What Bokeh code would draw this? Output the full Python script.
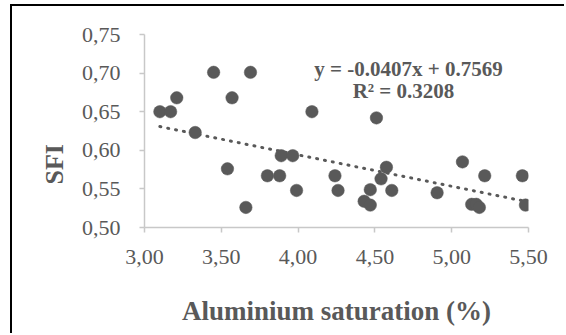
from bokeh.plotting import figure
from bokeh.models import Title, FixedTicker
from bokeh.embed import file_html
from bokeh.resources import INLINE

# ---- data ----
al_sat = [3.10, 3.17, 3.21, 3.33, 3.45, 3.69, 3.57, 3.54, 3.66, 3.80, 3.88, 3.89,
          3.965, 3.99, 4.09, 4.24, 4.26, 4.51, 4.575, 4.54, 4.47, 4.61, 4.43, 4.47,
          4.905, 5.07, 5.215, 5.46, 5.48, 5.13, 5.16, 5.18]
sfi = [0.650, 0.650, 0.668, 0.623, 0.701, 0.701, 0.668, 0.576, 0.526, 0.567, 0.567, 0.593,
       0.593, 0.548, 0.650, 0.567, 0.548, 0.642, 0.578, 0.563, 0.549, 0.548, 0.534, 0.529,
       0.545, 0.585, 0.567, 0.567, 0.529, 0.530, 0.530, 0.526]
slope = -0.0407
intercept = 0.7569
eq_lines = ["y = -0.0407x + 0.7569", "R² = 0.3208"]
x_ticks = [3.0, 3.5, 4.0, 4.5, 5.0, 5.5]
x_tick_labels = ["3,00", "3,50", "4,00", "4,50", "5,00", "5,50"]
y_ticks = [0.50, 0.55, 0.60, 0.65, 0.70, 0.75]
y_tick_labels = ["0,50", "0,55", "0,60", "0,65", "0,70", "0,75"]
x_title = "Aluminium saturation (%)"
y_title = "SFI"

GREY = "#595959"
AXIS = "#c8c8c8"
FONT = "Liberation Serif"

OX, OY = 12, 6            # canvas offset on the page (room for the black frame)
W, H = 566 - OX, 335 - OY
FL, FT = 144 - OX, 34 - OY  # frame left / top in canvas px
FW, FH = 384, 193           # frame size
p = figure(width=W, height=H, output_backend="svg", toolbar_location=None,
           x_range=(x_ticks[0], x_ticks[-1]), y_range=(y_ticks[0], y_ticks[-1]),
           min_border_left=FL, min_border_top=FT,
           min_border_right=W - FL - FW, min_border_bottom=H - FT - FH)
p.styles = {"position": "relative", "left": f"{OX}px", "top": f"{OY}px",
            "box-shadow": "-2px -2px 0 #000"}
p.outline_line_color = None
p.background_fill_color = "white"
p.border_fill_color = "white"
p.xgrid.visible = False
p.ygrid.visible = False

for ax, ticks, labels in ((p.xaxis[0], x_ticks, x_tick_labels), (p.yaxis[0], y_ticks, y_tick_labels)):
    ax.ticker = FixedTicker(ticks=ticks)
    ax.major_label_overrides = {t: l for t, l in zip(ticks, labels)}
    ax.minor_tick_line_color = None
    ax.axis_line_color = AXIS
    ax.axis_line_width = 1.5
    ax.major_tick_line_color = AXIS
    ax.major_tick_line_width = 1.5
    ax.major_tick_out = 5
    ax.major_tick_in = 0
    ax.major_label_text_font = FONT
    ax.major_label_text_font_size = "22px"
    ax.major_label_text_color = GREY
p.xaxis.major_label_standoff = 17
p.yaxis.major_label_standoff = 19

p.xaxis.axis_label = x_title
p.xaxis.axis_label_text_font = FONT
p.xaxis.axis_label_text_font_style = "bold"
p.xaxis.axis_label_text_font_size = "27px"
p.xaxis.axis_label_text_color = GREY
p.xaxis.axis_label_standoff = 29

p.add_layout(Title(text=y_title, align="left", offset=43, text_font=FONT,
                   text_font_style="bold", text_font_size="26px", text_color=GREY,
                   standoff=19), "left")

# trend line from the fitted equation
xs = [min(al_sat), max(al_sat)]
ys = [slope * x + intercept for x in xs]
p.line(xs, ys, line_color=GREY, line_width=3, line_dash="1 7", line_cap="round")

p.scatter(al_sat, sfi, size=12.5, fill_color=GREY, line_color=GREY, line_width=0.5)

ppx = FW / (x_ticks[-1] - x_ticks[0])
ppy = FH / (y_ticks[-1] - y_ticks[0])
p.text(x=[x_ticks[0] + (408 - 144) / ppx, x_ticks[0] + (403 - 144) / ppx],
       y=[y_ticks[-1] - (68 - 34) / ppy, y_ticks[-1] - (90.5 - 34) / ppy],
       text=eq_lines, text_align="center", text_baseline="alphabetic",
       text_font=FONT, text_font_style="bold", text_font_size="21px", text_color=GREY)

open("out.html", "w").write(file_html(p, INLINE))
